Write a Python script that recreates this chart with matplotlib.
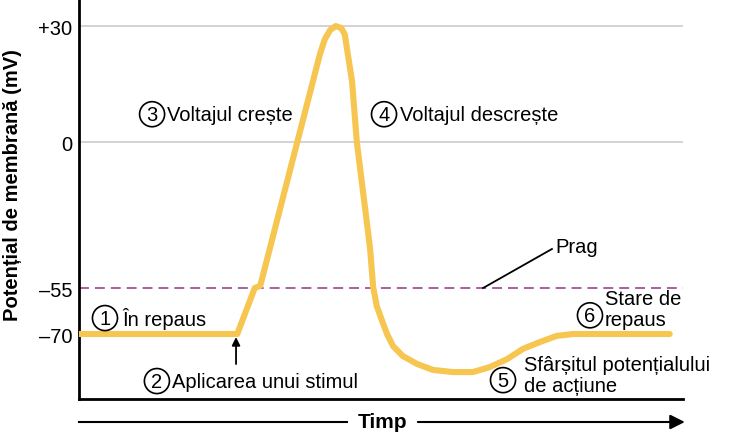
import numpy as np
import matplotlib.pyplot as plt

plt.rcParams['font.family'] = ['Liberation Sans', 'DejaVu Sans']

# potential de actiune (timp in unitati arbitrare, potential in mV)
timp = [0.0, 2.62, 2.91, 3.0, 3.99, 4.07, 4.16, 4.25, 4.34, 4.40, 4.45, 4.52,
        4.60, 4.74, 4.82, 4.87, 4.93, 5.02, 5.10, 5.20, 5.36, 5.60, 5.86, 6.19,
        6.52, 6.80, 7.09, 7.35, 7.63, 7.91, 8.18, 8.51, 9.78]
potential = [-70, -70, -55, -54.2, 22.8, 26.6, 29.0, 30, 29.5, 27.9, 22.8, 15.8,
             0, -25.6, -40.3, -54.6, -60.9, -65.8, -70, -73.9, -77.1, -79.7,
             -81.6, -82.3, -82.3, -80.7, -78.1, -74.8, -72.6, -70.6, -70, -70, -70]

yticks = [30, 0, -55, -70]
ytick_labels = ['+30', '0', '\u201355', '\u201370']
prag = -55
grid_levels = [30, 0]

# axa y din figura nu e liniara -> scala pe bucati
kn_mv = np.array([-200, -70, -55, 0, 30, 200])
kn_pos = np.array([-337.4, 65, 111, 257, 373, 1030.4])


def fwd(v):
    return np.interp(v, kn_mv, kn_pos)


def inv(p):
    return np.interp(p, kn_pos, kn_mv)


fig = plt.figure(figsize=(7.39, 4.35), dpi=100)
ax = fig.add_axes([79 / 739, 35 / 435, 604 / 739, 400 / 435])
ax.set_yscale('function', functions=(fwd, inv))
ax.set_xlim(0, 10)
ax.set_ylim(-91, 37)

for g in grid_levels:
    ax.axhline(g, color='#d3d3d3', lw=1.4, zorder=1)
ax.axhline(prag, color='#a5509f', lw=1.3, ls=(0, (5.5, 3.3)), zorder=1)

ax.plot(timp, potential, color='#f6c650', lw=4.4, solid_joinstyle='round',
        solid_capstyle='round', zorder=3)

ax.set_yticks(yticks)
ax.set_yticklabels(ytick_labels)
ax.set_xticks([])
ax.tick_params(axis='y', length=0, pad=5, labelsize=14.5)
for s in ['top', 'right']:
    ax.spines[s].set_visible(False)
for s in ['left', 'bottom']:
    ax.spines[s].set_linewidth(2)

fig.text(13 / 739, 1 - 185 / 435, 'Potențial de membrană (mV)', rotation=90,
         ha='center', va='center', fontsize=14.5, fontweight='bold')

fs = 14.5


def circled(x, y, n):
    ax.text(x, y, str(n), ha='center', va='center', fontsize=fs,
            bbox=dict(boxstyle='circle,pad=0.15', fc='none', ec='black', lw=1.2))


circled(0.43, -64.8, 1)
ax.text(0.71, -64.8, 'În repaus', ha='left', va='center', fontsize=fs)

circled(1.29, -85.2, 2)
ax.text(1.54, -85.2, 'Aplicarea unui stimul', ha='left', va='center', fontsize=fs)
ax.annotate('', xy=(2.6, -71.0), xytext=(2.6, -79.7),
            arrowprops=dict(arrowstyle='-|>', color='black', lw=1.3,
                            mutation_scale=12, shrinkA=0, shrinkB=0))

circled(1.21, 7.2, 3)
ax.text(1.46, 7.2, 'Voltajul crește', ha='left', va='center', fontsize=fs)

circled(5.05, 7.2, 4)
ax.text(5.31, 7.2, 'Voltajul descrește', ha='left', va='center', fontsize=fs)

circled(7.02, -84.9, 5)
ax.text(7.37, -83.2, 'Sfârșitul potențialului\nde acțiune', ha='left',
        va='center', fontsize=fs, linespacing=1.1)

circled(8.46, -63.9, 6)
ax.text(8.71, -61.8, 'Stare de\nrepaus', ha='left', va='center', fontsize=fs,
        linespacing=1.1)

ax.plot([6.69, 7.83], [-55, -40.3], color='black', lw=1.3, zorder=4)
ax.text(7.88, -39.2, 'Prag', ha='left', va='center', fontsize=fs)

# axa timpului
yb = -0.0575
ax.plot([0, 0.444], [yb, yb], transform=ax.transAxes, clip_on=False,
        color='black', lw=1.5)
ax.annotate('', xy=(1.003, yb), xytext=(0.561, yb), xycoords='axes fraction',
            arrowprops=dict(arrowstyle='-|>', color='black', lw=1.5,
                            mutation_scale=22, shrinkA=0, shrinkB=0),
            annotation_clip=False)
ax.text(0.503, yb, 'Timp', transform=ax.transAxes, ha='center', va='center',
        fontsize=15, fontweight='bold')

fig.savefig('out.png', dpi=100)
